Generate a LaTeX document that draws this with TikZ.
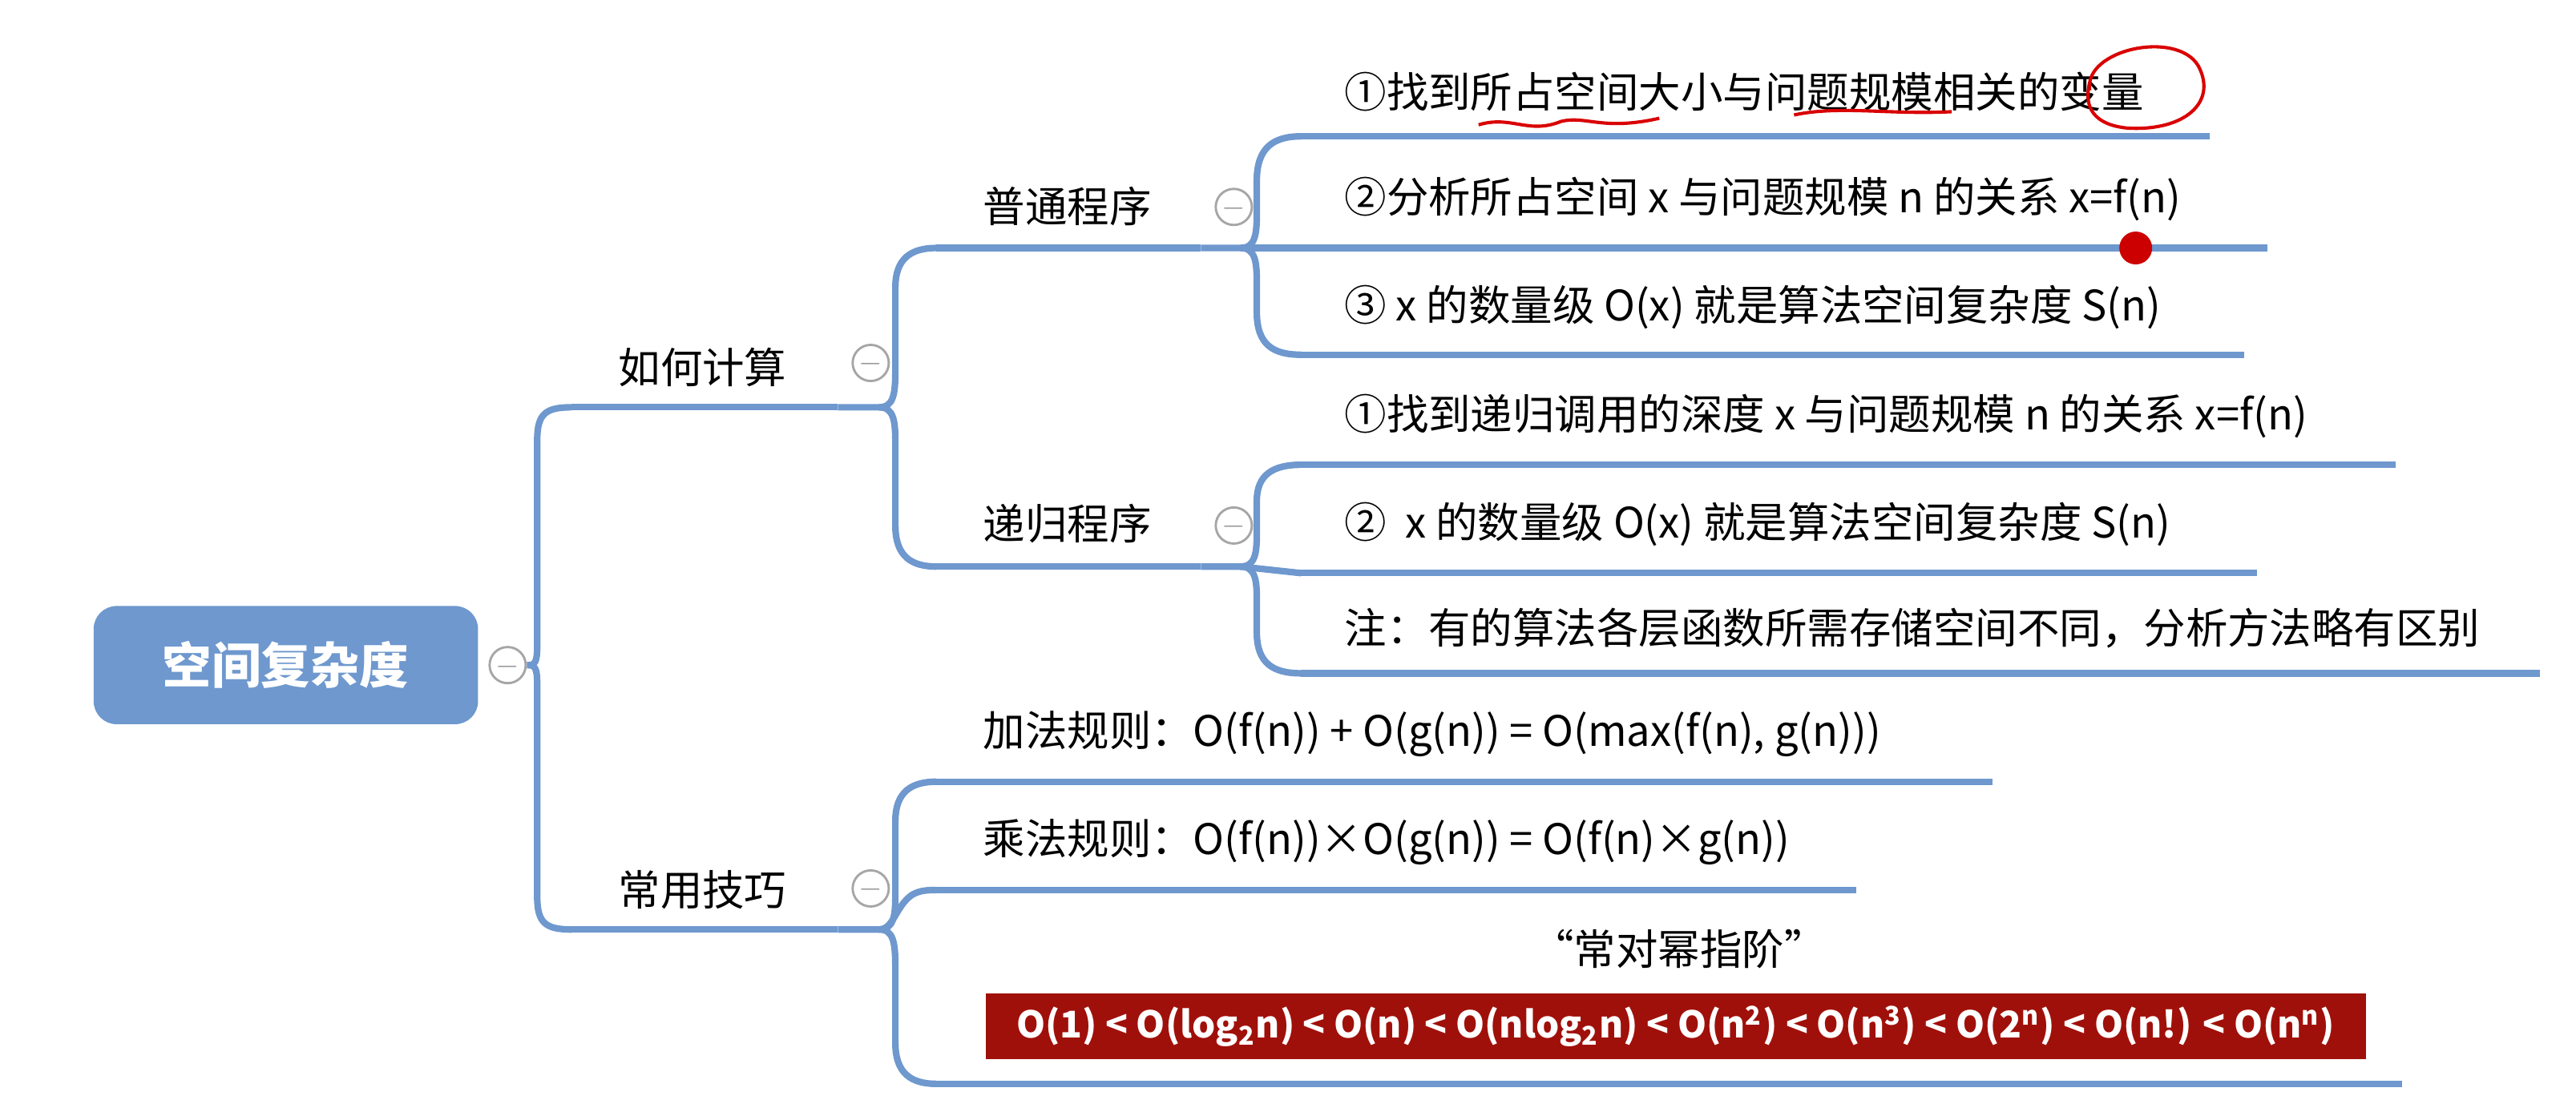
\documentclass[tikz,border=0pt]{standalone}
\usepackage{fontspec}
\setmainfont{Noto Sans CJK SC}
\begin{document}
\begin{tikzpicture}[x=0.5pt,y=-0.5pt,
  lbl/.style={anchor=south west, font=\fontsize{12.8}{14}\selectfont, inner sep=0pt},
  col/.style={circle, draw=gray!70, fill=white, line width=0.7pt, minimum size=11pt, inner sep=0pt, font=\fontsize{9}{9}\selectfont\color{gray!80}, text depth=0pt}]
\definecolor{lb}{RGB}{110,152,206}
\definecolor{dr}{RGB}{160,16,10}
\useasboundingbox (0,0) rectangle (1568,677);
\tikzset{br/.style={draw=lb, line width=2pt}}
% root
\node[fill=lb, rounded corners=7pt, minimum width=117pt, minimum height=36pt, text=white, font=\fontsize{15}{15}\bfseries\selectfont] (root) at (174,405) {空间复杂度};
\node[col] (c0) at (309,405) {$-$};
% level 1 lines
\coordinate (a1) at (348,248); \coordinate (a2) at (510,248);
\coordinate (b1) at (348,566); \coordinate (b2) at (510,566);
\draw[br] (a1)--(a2); \draw[br] (b1)--(b2);
\node[lbl] at (376,236) {如何计算};
\node[lbl] at (376,554) {常用技巧};
\node[col] (c1) at (530,221) {$-$};
\node[col] (c2) at (530,541) {$-$};
\draw[br] (c0.east) -- (322,405) .. controls (327,405) and (327,400) .. (327,390) -- (327,268) .. controls (327,252) and (332,248) .. (a1);
\draw[br] (322,405) .. controls (327,405) and (327,410) .. (327,420) -- (327,546) .. controls (327,562) and (332,566) .. (b1);
% level 2 under 如何计算
\coordinate (p1) at (570,151); \coordinate (p2) at (731,151);
\coordinate (q1) at (570,345); \coordinate (q2) at (731,345);
\draw[br] (p1)--(p2); \draw[br] (q1)--(q2);
\node[lbl] at (598,138) {普通程序};
\node[lbl] at (598,331) {递归程序};
\node[col] (c3) at (751,126) {$-$};
\node[col] (c4) at (751,320) {$-$};
\draw[br] (a2) -- (535,248) .. controls (544,248) and (545,240) .. (545,225) -- (545,175) .. controls (545,157) and (555,151) .. (p1);
\draw[br] (535,248) .. controls (544,248) and (545,256) .. (545,270) -- (545,320) .. controls (545,339) and (555,345) .. (q1);
% 普通程序 children
\coordinate (n1) at (792,83); \coordinate (n2) at (792,151); \coordinate (n3) at (792,216);
\draw[br] (n1) -- (1345,83); \draw[br] (n2) -- (1380,151); \draw[br] (n3) -- (1366,216);
\draw[br] (p2) -- (755,151) .. controls (764,151) and (765,143) .. (765,130) -- (765,110) .. controls (765,90) and (775,83) .. (n1);
\draw[br] (755,151) -- (n2);
\draw[br] (755,151) .. controls (764,151) and (765,159) .. (765,172) -- (765,190) .. controls (765,210) and (775,216) .. (n3);
\node[lbl] at (818,68) {①找到所占空间大小与问题规模相关的变量};
\node[lbl] at (818,135) {②分析所占空间 x 与问题规模 n 的关系 x=f(n)};
\node[lbl] at (818,201) {③ x 的数量级 O(x) 就是算法空间复杂度 S(n)};
% 递归程序 children
\coordinate (m1) at (792,283); \coordinate (m2) at (792,349); \coordinate (m3) at (792,410);
\draw[br] (m1) -- (1458,283); \draw[br] (m2) -- (1374,349); \draw[br] (m3) -- (1546,410);
\draw[br] (q2) -- (755,345) .. controls (764,345) and (765,337) .. (765,325) -- (765,305) .. controls (765,289) and (775,283) .. (m1);
\draw[br] (755,345) -- (m2);
\draw[br] (755,345) .. controls (764,345) and (765,353) .. (765,365) -- (765,385) .. controls (765,404) and (775,410) .. (m3);
\node[lbl] at (818,267) {①找到递归调用的深度 x 与问题规模 n 的关系 x=f(n)};
\node[lbl] at (818,333) {②\ \ x 的数量级 O(x) 就是算法空间复杂度 S(n)};
\node[lbl] at (818,395) {注：有的算法各层函数所需存储空间不同，分析方法略有区别};
% 常用技巧 children
\coordinate (k1) at (570,476); \coordinate (k2) at (570,542); \coordinate (k3) at (570,660);
\draw[br] (k1) -- (1213,476); \draw[br] (k2) -- (1130,542); \draw[br] (k3) -- (1462,660);
\draw[br] (b2) -- (535,566) .. controls (544,566) and (545,558) .. (545,545) -- (545,500) .. controls (545,482) and (555,476) .. (k1);
\draw[br] (535,566) .. controls (544,566) and (545,552) .. (555,545) .. controls (560,542) and (565,542) .. (k2);
\draw[br] (535,566) .. controls (544,566) and (545,574) .. (545,590) -- (545,635) .. controls (545,654) and (555,660) .. (k3);
\node[lbl] at (598,461) {加法规则：O(f(n)) + O(g(n)) = O(max(f(n), g(n)))};
\node[lbl] at (598,527) {乘法规则：O(f(n))×O(g(n)) = O(f(n)×g(n))};
\node[font=\fontsize{12.8}{14}\selectfont] (q) at (1022,578) {“常对幂指阶”};
\node[fill=dr, minimum width=420pt, minimum height=20pt, inner sep=0pt, text=white, font=\fontsize{11.2}{13}\bfseries\selectfont] (rb) at (1020,625)
 {O(1) < O(log\textsubscript{2}n) < O(n) < O(nlog\textsubscript{2}n) < O(n\textsuperscript{2}) < O(n\textsuperscript{3}) < O(2\textsuperscript{n}) < O(n!) < O(n\textsuperscript{n})};
% red annotations
\draw[red!85!black, line width=1pt] (900,76) .. controls (920,70) and (930,82) .. (950,74) .. controls (965,70) and (975,80) .. (1010,72);
\draw[red!85!black, line width=1pt] (1092,70) .. controls (1120,64) and (1150,70) .. (1188,68);
\draw[red!85!black, line width=1pt] (1272,55) .. controls (1268,30) and (1325,18) .. (1338,40) .. controls (1350,62) and (1330,80) .. (1295,78) .. controls (1275,76) and (1268,66) .. (1272,50);
\fill[red!80!black] (1300,151) circle (5pt);
\end{tikzpicture}
\end{document}
